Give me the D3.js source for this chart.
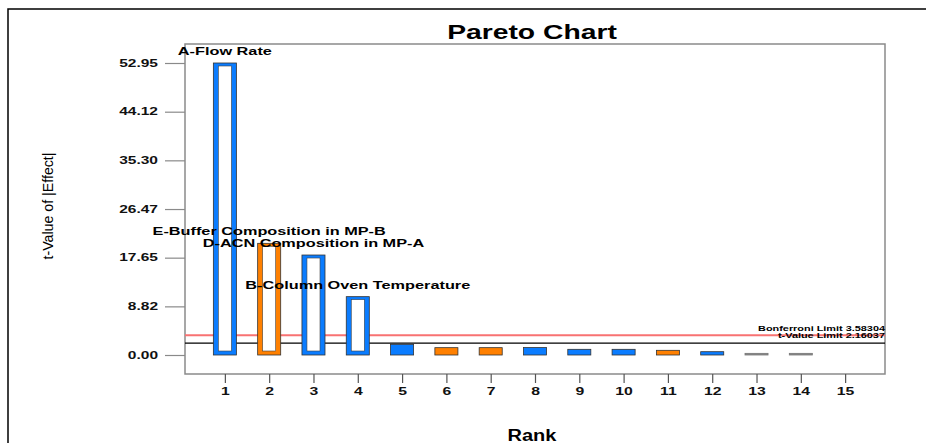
<!DOCTYPE html>
<html lang="en">
<head>
    <meta charset="UTF-8">
    <script src="https://cdnjs.cloudflare.com/ajax/libs/d3/7.8.5/d3.min.js"></script>
    <title>Pareto Chart</title>
    <style>
        body { margin: 0; background: #fff; }
        text { font-family: Arial, "Liberation Sans", sans-serif; }
    </style>
</head>
<body>

<script>

    // data
    let ranks = [1, 2, 3, 4, 5, 6, 7, 8, 9, 10, 11, 12, 13, 14];
    let tValues = [52.95, 20.25, 18.13, 10.58, 1.93, 1.33, 1.33, 1.35, 1.03, 1.03, 0.85, 0.6, 0.3, 0.3];
    let signs = ["+", "-", "+", "+", "+", "-", "-", "+", "+", "+", "-", "+", "0", "0"];
    let barLabels = ["A-Flow Rate", "E-Buffer Composition in MP-B", "D-ACN Composition in MP-A",
                     "B-Column Oven Temperature", "", "", "", "", "", "", "", "", "", ""];
    let yTicks = [0, 8.82, 17.65, 26.47, 35.30, 44.12, 52.95];
    let yTickLabels = ["0.00", "8.82", "17.65", "26.47", "35.30", "44.12", "52.95"];
    let xTicks = [1, 2, 3, 4, 5, 6, 7, 8, 9, 10, 11, 12, 13, 14, 15];
    let limits = [
        {name: "Bonferroni Limit", value: 3.58304},
        {name: "t-Value Limit", value: 2.16037}
    ];

    let W = 926, H = 443;
    let plot = {left: 185, top: 44, right: 885, bottom: 374};

    let x = d3.scaleLinear().domain([0.1, 15.9]).range([plot.left, plot.right]);
    let y = d3.scaleLinear().domain([-3.445, 56.395]).range([plot.bottom, plot.top]);

    let colors = {"+": "#0a7cff", "-": "#ff8000", "0": "#888"};

    let svg = d3.select("body").append("svg")
        .attr("width", W)
        .attr("height", H);

    // text in the source is stretched sideways
    function stretch(sel, k) {
        sel.each(function() {
            let len = this.getComputedTextLength();
            d3.select(this).attr("textLength", len * k).attr("lengthAdjust", "spacingAndGlyphs");
        });
    }

    // outer frame
    svg.append("rect")
        .attr("x", 8).attr("y", 9)
        .attr("width", W).attr("height", H)
        .attr("fill", "none").attr("stroke", "#000").attr("stroke-width", 1.5);

    // plot frame
    svg.append("rect")
        .attr("x", plot.left).attr("y", plot.top)
        .attr("width", plot.right - plot.left).attr("height", plot.bottom - plot.top)
        .attr("fill", "none").attr("stroke", "#8a8a8a").attr("stroke-width", 1.5);

    // y axis
    let yAxis = svg.append("g")
        .attr("transform", "translate(" + plot.left + ",0)")
        .call(d3.axisLeft(y).tickValues(yTicks)
            .tickFormat((d, i) => yTickLabels[i]).tickSize(20).tickPadding(7));
    yAxis.select(".domain").remove();
    yAxis.selectAll("line").attr("stroke", "#8a8a8a").attr("stroke-width", 1.2);
    yAxis.selectAll("text")
        .attr("font-size", 10).attr("font-weight", "bold").attr("fill", "#111")
        .call(stretch, 1.55);

    // x axis
    let xAxis = svg.append("g")
        .attr("transform", "translate(0," + plot.bottom + ")")
        .call(d3.axisBottom(x).tickValues(xTicks).tickSize(9).tickPadding(5));
    xAxis.select(".domain").remove();
    xAxis.selectAll("line").attr("stroke", "#555").attr("stroke-width", 1.2);
    xAxis.selectAll("text")
        .attr("font-size", 10.5).attr("font-weight", "bold").attr("fill", "#111")
        .call(stretch, 1.5);

    // limit lines
    svg.selectAll(".limit")
        .data(limits)
        .enter().append("line")
        .attr("x1", plot.left).attr("x2", plot.right)
        .attr("y1", d => y(d.value)).attr("y2", d => y(d.value))
        .attr("stroke", (d, i) => i === 0 ? "#f87272" : "#000")
        .attr("stroke-width", (d, i) => i === 0 ? 2 : 1.3);

    svg.selectAll(".limitLabel")
        .data(limits)
        .enter().append("text")
        .attr("x", plot.right)
        .attr("y", (d, i) => y(d.value) - (i === 0 ? 4.5 : 5))
        .attr("text-anchor", "end")
        .attr("font-size", 7.5).attr("font-weight", "bold")
        .text(d => d.name + " " + d.value.toFixed(5))
        .call(stretch, 1.45);

    // bars
    let bw = x(1.52) - x(1);
    let bars = svg.selectAll(".bar")
        .data(ranks)
        .enter().append("g");

    bars.append("rect")
        .attr("x", d => x(d) - bw / 2)
        .attr("y", (d, i) => y(tValues[i]))
        .attr("width", bw)
        .attr("height", (d, i) => y(0) - y(tValues[i]))
        .attr("fill", (d, i) => colors[signs[i]])
        .attr("stroke", (d, i) => signs[i] === "0" ? "#777" : "#333")
        .attr("stroke-width", 0.8);

    // tall bars are drawn hollow
    bars.filter((d, i) => y(0) - y(tValues[i]) > 20)
        .append("rect")
        .attr("x", d => x(d) - bw / 2 + 5)
        .attr("y", d => y(tValues[d - 1]) + 3)
        .attr("width", bw - 10)
        .attr("height", d => y(0) - y(tValues[d - 1]) - 7)
        .attr("fill", "#fff")
        .attr("stroke", "#444")
        .attr("stroke-width", 0.6);

    // effect labels
    svg.selectAll(".barLabel")
        .data(ranks.filter((d, i) => barLabels[i] !== ""))
        .enter().append("text")
        .attr("x", d => x(d))
        .attr("y", d => y(tValues[d - 1]) - 8)
        .attr("text-anchor", "middle")
        .attr("font-size", 10.5).attr("font-weight", "bold")
        .text(d => barLabels[d - 1])
        .call(stretch, 1.55);

    // title
    svg.append("text")
        .attr("x", 532).attr("y", 39)
        .attr("text-anchor", "middle")
        .attr("font-size", 19.5).attr("font-weight", "bold")
        .text("Pareto Chart")
        .call(stretch, 1.45);

    svg.append("text")
        .attr("x", 532).attr("y", 441)
        .attr("text-anchor", "middle")
        .attr("font-size", 16).attr("font-weight", "bold")
        .text("Rank")
        .call(stretch, 1.25);

    svg.append("text")
        .attr("transform", "translate(53,206) rotate(-90)")
        .attr("text-anchor", "middle")
        .attr("font-size", 14.5)
        .attr("textLength", 107).attr("lengthAdjust", "spacingAndGlyphs")
        .text("t-Value of |Effect|");

</script>

</body>
</html>
